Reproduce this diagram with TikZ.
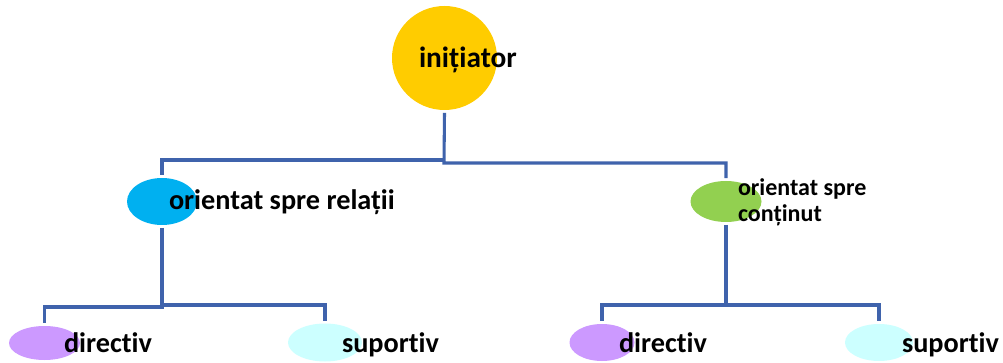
\documentclass[tikz,border=0pt]{standalone}
\usepackage{fontspec}
\setmainfont[Ligatures=NoCommon]{Carlito}
\usetikzlibrary{shapes.geometric}
\definecolor{linec}{HTML}{3F63AC}
\definecolor{cgold}{HTML}{FFCC00}
\definecolor{cblue}{HTML}{00B0F0}
\definecolor{cgreen}{HTML}{92D050}
\definecolor{cpurple}{HTML}{CC99FF}
\definecolor{ccyan}{HTML}{CCFFFF}
\tikzset{
  blob/.style={ellipse,draw=none,inner sep=0pt,outer sep=2.2pt},
  lab/.style={anchor=base west,inner sep=0pt,outer sep=0pt,font=\bfseries\fontsize{21.2}{24}\selectfont},
  labbig/.style={lab,font=\bfseries\fontsize{22}{24}\selectfont},
  labsmall/.style={anchor=base west,inner sep=0pt,outer sep=0pt,font=\bfseries\fontsize{18}{20}\selectfont},
  conn/.style={draw=linec,line width=2.3pt,line join=miter}
}
\begin{document}
\begin{tikzpicture}[x=0.75pt,y=-0.75pt]
\useasboundingbox (0,0) rectangle (1003,363);
\fill[white] (0,0) rectangle (1003,363);
\node[blob,fill=cgold,minimum width=78.75pt,minimum height=78pt] (init) at (444.5,58) {};
\node[blob,fill=cblue,minimum width=52.5pt,minimum height=35.25pt] (rel) at (162,201.5) {};
\node[blob,fill=cgreen,minimum width=53.25pt,minimum height=30.75pt] (con) at (726,201.5) {};
\node[blob,fill=cpurple,minimum width=53.25pt,minimum height=25.5pt] (d1) at (44.5,343) {};
\node[blob,fill=ccyan,minimum width=55.5pt,minimum height=28.5pt] (s1) at (325,342.5) {};
\node[blob,fill=cpurple,minimum width=48.75pt,minimum height=27.75pt] (d2) at (602,342.5) {};
\node[blob,fill=ccyan,minimum width=51pt,minimum height=27.75pt] (s2) at (879,342.5) {};
\coordinate (jl) at (444,160);
\coordinate (jr) at (444,163);
\coordinate (j1l) at (162,307);
\coordinate (j1r) at (162,305);
\coordinate (j2) at (726,305);
\draw[conn] (init.south) -- (jr) -| (con.north);
\draw[conn] (jl) -| (rel.north);
\draw[conn] (rel.south) -- (j1l) -| (d1.north);
\draw[conn] (j1r) -| (s1.north);
\draw[conn] (con.south) -- (j2) -| (d2.north);
\draw[conn] (j2) -| (s2.north);
\node[labbig] (tinit) at (419,68) {inițiator};
\node[lab] (trel) at (169,210) {orientat spre relații};
\node[labsmall] (tcon1) at (738,196) {orientat spre};
\node[labsmall] (tcon2) at (738,222) {conținut};
\node[lab] (td1) at (64,353) {directiv};
\node[lab] (ts1) at (342,353) {suportiv};
\node[lab] (td2) at (619,353) {directiv};
\node[lab] (ts2) at (902,353) {suportiv};
\end{tikzpicture}
\end{document}
